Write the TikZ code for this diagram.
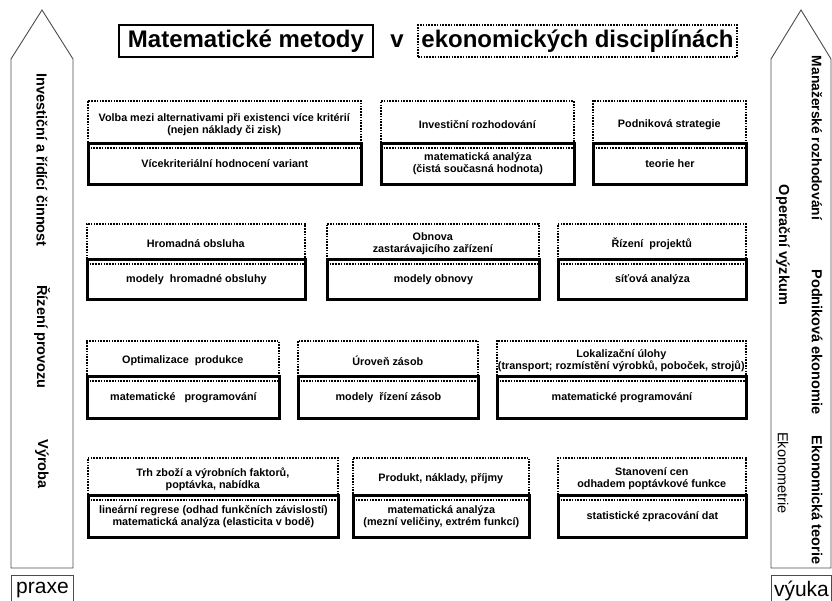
\documentclass[tikz,border=0pt]{standalone}
\usepackage{fontspec}
\setmainfont{Liberation Sans}

\begin{document}
\begin{tikzpicture}[
  x = 1pt, y = -1pt,
  every node/.style = {font = \fontsize{10.8}{12}\selectfont\bfseries, align = center, inner sep = 0pt},
  topbox/.style = {draw, line width = 1.6pt, dash pattern = on 1.6pt off 1.2pt, anchor = north west},
  methbox/.style = {draw, line width = 2.8pt, anchor = north west},
  side/.style = {rotate = -90, font = \fontsize{14.5}{16}\selectfont\bfseries},
  pillar/.style = {draw = black!70, line width = 0.9pt},
  headline/.style = {font = \fontsize{24}{28}\selectfont\bfseries, minimum height = 32},
  corner/.style = {draw = black!70, line width = 0.9pt, minimum height = 30, anchor = north west,
                   font = \fontsize{21}{24}\selectfont},
  ]
  \useasboundingbox (0,0) rectangle (832,601);

  % title
  \node[headline, draw, line width = 2.5pt, minimum width = 254] (mm) at (246,41) {Matematické metody};
  \node[headline] (vv) at (397,41) {v};
  \node[headline, draw, line width = 1.6pt, dash pattern = on 1.6pt off 1.2pt, minimum width = 319] (ed) at (577.5,41) {ekonomických disciplínách};

  % pillars
  \coordinate (ltip) at (42,10);
  \draw[pillar] (11,568) -- (11,59) -- (ltip) -- (73,59) -- (73,568) -- cycle;
  \coordinate (rtip) at (801,10);
  \draw[pillar] (771,568) -- (771,59) -- (rtip) -- (831,59) -- (831,568) -- cycle;
  \node[corner, minimum width = 62] (praxe) at (11,575) {praxe};
  \node[corner, minimum width = 60] (vyuka) at (771,575) {výuka};

  \node[side] (inv) at (42,160) {Investiční a řídící činnost};
  \node[side] (riz) at (42,337) {Řízení provozu};
  \node[side] (vyr) at (42,464) {Výroba};
  \node[side, font = \fontsize{13.8}{16}\selectfont\bfseries] (man) at (817,138) {Manažerské rozhodování};
  \node[side] (pod) at (817,342) {Podniková ekonomie};
  \node[side] (ekt) at (817,500) {Ekonomická teorie};
  \node[side] (opv) at (783,245) {Operační výzkum};
  \node[side, font = \fontsize{14.5}{16}\selectfont] (ekm) at (783,473) {Ekonometrie};

  % row 1
  \node[topbox, minimum width = 273, minimum height = 47] (volba) at (87,100)
    {Volba mezi alternativami při existenci více kritérií\\(nejen náklady či zisk)};
  \node[methbox, minimum width = 273, minimum height = 41] (vicekrit) at (87,142)
    {Vícekriteriální hodnocení variant};
  \node[topbox, minimum width = 193, minimum height = 47] (invest) at (380,100)
    {Investiční rozhodování};
  \node[methbox, minimum width = 193, minimum height = 41] (matan1) at (380,142)
    {matematická analýza\\(čistá současná hodnota)};
  \node[topbox, minimum width = 153, minimum height = 47] (strat) at (592,100)
    {Podniková strategie};
  \node[methbox, minimum width = 153, minimum height = 41] (hry) at (592,142)
    {teorie her};

  % row 2
  \node[topbox, minimum width = 218, minimum height = 40] (hrom) at (86,223)
    {Hromadná obsluha};
  \node[methbox, minimum width = 218, minimum height = 40] (mhrom) at (86,258)
    {modely \ hromadné obsluhy};
  \node[topbox, minimum width = 212, minimum height = 40] (obnova) at (326,223)
    {Obnova\\zastarávajicího zařízení};
  \node[methbox, minimum width = 212, minimum height = 40] (mobn) at (326,258)
    {modely obnovy};
  \node[topbox, minimum width = 188, minimum height = 40] (proj) at (557,223)
    {Řízení \ projektů};
  \node[methbox, minimum width = 188, minimum height = 40] (sit) at (557,258)
    {síťová analýza};

  % row 3
  \node[topbox, minimum width = 192, minimum height = 40] (optim) at (86,340)
    {Optimalizace \ produkce};
  \node[methbox, minimum width = 192, minimum height = 42] (mprog1) at (86,375)
    {matematické \ \ programování};
  \node[topbox, minimum width = 180, minimum height = 40] (zasob) at (297,340)
    {Úroveň zásob};
  \node[methbox, minimum width = 180, minimum height = 42] (mzas) at (297,375)
    {modely \ řízení zásob};
  \node[topbox, minimum width = 249, minimum height = 40] (lokal) at (496,340)
    {Lokalizační úlohy\\(transport; rozmístění výrobků, poboček, strojů)};
  \node[methbox, minimum width = 249, minimum height = 42] (mprog2) at (496,375)
    {matematické programování};

  % row 4
  \node[topbox, minimum width = 250, minimum height = 42] (trh) at (87,457)
    {Trh zboží a výrobních faktorů,\\poptávka, nabídka};
  \node[methbox, minimum width = 250, minimum height = 42] (regr) at (87,494)
    {lineární regrese (odhad funkčních závislostí)\\matematická analýza (elasticita v bodě)};
  \node[topbox, minimum width = 176, minimum height = 42] (produkt) at (352,457)
    {Produkt, náklady, příjmy};
  \node[methbox, minimum width = 176, minimum height = 42] (matan2) at (352,494)
    {matematická analýza\\(mezní veličiny, extrém funkcí)};
  \node[topbox, minimum width = 188, minimum height = 42] (ceny) at (557,457)
    {Stanovení cen\\odhadem poptávkové funkce};
  \node[methbox, minimum width = 188, minimum height = 42] (stat) at (557,494)
    {statistické zpracování dat};
\end{tikzpicture}
\end{document}
